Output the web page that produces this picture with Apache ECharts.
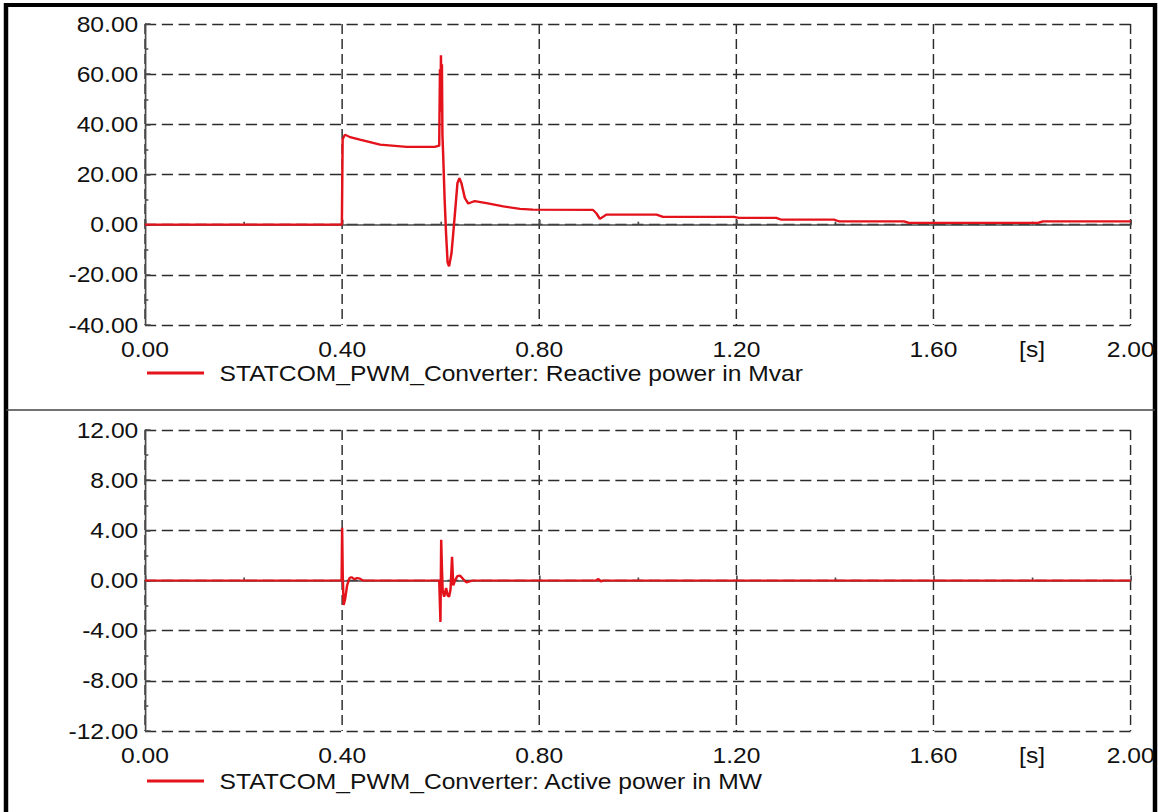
<!DOCTYPE html>
<html>
<head>
<meta charset="utf-8">
<script src="https://cdn.jsdelivr.net/npm/echarts@6/dist/echarts.min.js"></script>
<style>
  html, body { margin: 0; padding: 0; background: #fff; overflow: hidden; }
  /* the plot is laid out on a narrower canvas and widened to the page,
     which gives the wide sans-serif lettering of the plot window */
  #chart { width: 1034px; height: 812px; transform: scaleX(1.11992); transform-origin: 0 0; }
</style>
</head>
<body>
<div id="chart"></div>
<script>
// STATCOM PWM converter response: reactive power (Mvar) and active power (MW) vs time [s]
const seriesNameQ = 'STATCOM_PWM_Converter: Reactive power in Mvar';
const seriesNameP = 'STATCOM_PWM_Converter: Active power in MW';

const timeUnitLabel = '[s]';

// Reactive power samples
const timeQ = [0, 0.3995, 0.4010, 0.4057, 0.416, 0.436, 0.477, 0.531, 0.588, 0.597,
  0.5985, 0.5995, 0.6005, 0.6015, 0.6025, 0.6035, 0.605, 0.608, 0.611, 0.614, 0.617,
  0.622, 0.629, 0.634, 0.638, 0.642, 0.649, 0.656, 0.669, 0.693, 0.727, 0.761, 0.787,
  0.909, 0.916, 0.923, 0.930, 0.936, 1.038, 1.051, 1.195, 1.205, 1.281, 1.291, 1.399,
  1.409, 1.540, 1.550, 1.812, 1.822, 2.0];
const valueQ = [0, 0, 34.0, 35.9, 34.9, 33.9, 31.9, 31.0, 31.0, 31.5,
  62.0, 45.0, 67.5, 50.0, 64.0, 36.0, 28.0, 10.0, -4.0, -15.0, -16.6,
  -11.3, 4.7, 16.6, 18.6, 16.6, 10.6, 8.4, 9.4, 8.6, 7.3, 6.3, 6.0,
  5.9, 4.5, 2.3, 3.2, 4.0, 4.0, 3.1, 3.1, 2.7, 2.7, 2.0, 2.0,
  1.3, 1.3, 0.7, 0.7, 1.3, 1.3];

// Active power samples
const timeP = [0, 0.3990, 0.4000, 0.4012, 0.4030, 0.4060, 0.4100, 0.4150, 0.4190, 0.4250,
  0.4300, 0.4360, 0.4420, 0.5970, 0.5995, 0.6010, 0.6025, 0.6040, 0.6070, 0.6110, 0.6140,
  0.6170, 0.6200, 0.6230, 0.6255, 0.6290, 0.6340, 0.6390, 0.6460, 0.6520, 0.6600, 0.6670,
  0.9150, 0.9200, 0.9250, 0.9300, 2.0];
const valueP = [0, 0, 4.2, 0.5, -1.95, -1.5, -0.4, 0.2, 0.27, 0.1,
  0.2, 0.15, 0, 0, -3.3, 3.25, 1.0, -0.8, -1.3, -0.6, -1.2,
  -1.3, -0.7, 1.9, -0.4, 0.0, 0.35, 0.4, 0.1, -0.15, -0.05, 0,
  0, 0.12, -0.08, 0, 0];

const yTicksQ = { min: -40, max: 80, interval: 20 };
const yTicksP = { min: -12, max: 12, interval: 4 };

const toPairs = (ts, vs) => ts.map((t, i) => [t, vs[i]]);

// horizontal page pixels -> layout pixels of the widened canvas
const WIDEN = 1.11992;
const sx = px => px / WIDEN;

const FONT = 'Liberation Sans, Arial, sans-serif';
const LABEL_SIZE = 22;
const TEXT = '#111';
const RED = '#e3121b';
const GRID_LINE = { color: '#2b2b2b', width: 1.3, type: [10, 5] };
const AXIS_LINE = { color: '#4a4a4a', width: 1.5 };

function mainXAxis(gridIndex) {
  return {
    type: 'value', gridIndex, position: 'bottom',
    min: 0, max: 2, interval: 0.4,
    axisLine: { show: true, lineStyle: AXIS_LINE },
    axisTick: { show: true, inside: true, length: 5, lineStyle: AXIS_LINE },
    minorTick: { show: true, splitNumber: 2, length: 3, lineStyle: AXIS_LINE },
    splitLine: { show: true, lineStyle: GRID_LINE },
    axisLabel: {
      margin: 13, color: TEXT, fontFamily: FONT, fontSize: LABEL_SIZE,
      formatter: v => v.toFixed(2),
      showMinLabel: true, showMaxLabel: true
    }
  };
}

function unitXAxis(gridIndex) {
  return {
    type: 'value', gridIndex, position: 'bottom',
    min: 0, max: 2, interval: 0.2,
    axisLine: { show: false }, axisTick: { show: false }, splitLine: { show: false },
    axisLabel: {
      margin: 13, color: TEXT, fontFamily: FONT, fontSize: LABEL_SIZE,
      formatter: v => (Math.abs(v - 1.8) < 1e-6 ? timeUnitLabel : '')
    }
  };
}

function yAxis(gridIndex, ticks) {
  return {
    type: 'value', gridIndex,
    min: ticks.min, max: ticks.max, interval: ticks.interval,
    axisLine: { show: true, lineStyle: AXIS_LINE },
    axisTick: { show: true, inside: true, length: 5, lineStyle: AXIS_LINE },
    minorTick: { show: true, splitNumber: 2, length: 3, lineStyle: AXIS_LINE },
    splitLine: { show: true, lineStyle: GRID_LINE },
    axisLabel: {
      margin: 6, color: TEXT, fontFamily: FONT, fontSize: LABEL_SIZE,
      formatter: v => v.toFixed(2)
    }
  };
}

function legend(name, top) {
  return {
    data: [name], left: sx(147), top, padding: 0,
    icon: 'rect', itemWidth: sx(57), itemHeight: 3,
    selectedMode: false,
    textStyle: { color: TEXT, fontFamily: FONT, fontSize: LABEL_SIZE, padding: [0, 0, 0, sx(10)] }
  };
}

function lineSeries(name, axisIdx, data) {
  return {
    name, type: 'line', xAxisIndex: axisIdx, yAxisIndex: axisIdx,
    data, showSymbol: false, symbol: 'none', sampling: null,
    lineStyle: { color: RED, width: 2.2 }, itemStyle: { color: RED },
    z: 5
  };
}

const chart = echarts.init(document.getElementById('chart'), null, { renderer: 'svg' });
chart.setOption({
  animation: false,
  backgroundColor: '#fff',
  grid: [
    { left: sx(145), right: sx(27), top: 24, height: 301 },
    { left: sx(145), right: sx(27), top: 430, height: 301 }
  ],
  xAxis: [mainXAxis(0), mainXAxis(1), unitXAxis(0), unitXAxis(1)],
  yAxis: [yAxis(0, yTicksQ), yAxis(1, yTicksP)],
  legend: [legend(seriesNameQ, 362), legend(seriesNameP, 770)],
  series: [
    lineSeries(seriesNameQ, 0, toPairs(timeQ, valueQ)),
    lineSeries(seriesNameP, 1, toPairs(timeP, valueP))
  ],
  graphic: [
    { type: 'rect', shape: { x: sx(6), y: 5, width: sx(1149), height: 820 },
      style: { fill: 'none', stroke: '#000', lineWidth: 4 }, silent: true },
    { type: 'line', shape: { x1: sx(6), y1: 410, x2: sx(1155), y2: 410 },
      style: { stroke: '#444', lineWidth: 1.5 }, silent: true }
  ]
});
</script>
</body>
</html>
